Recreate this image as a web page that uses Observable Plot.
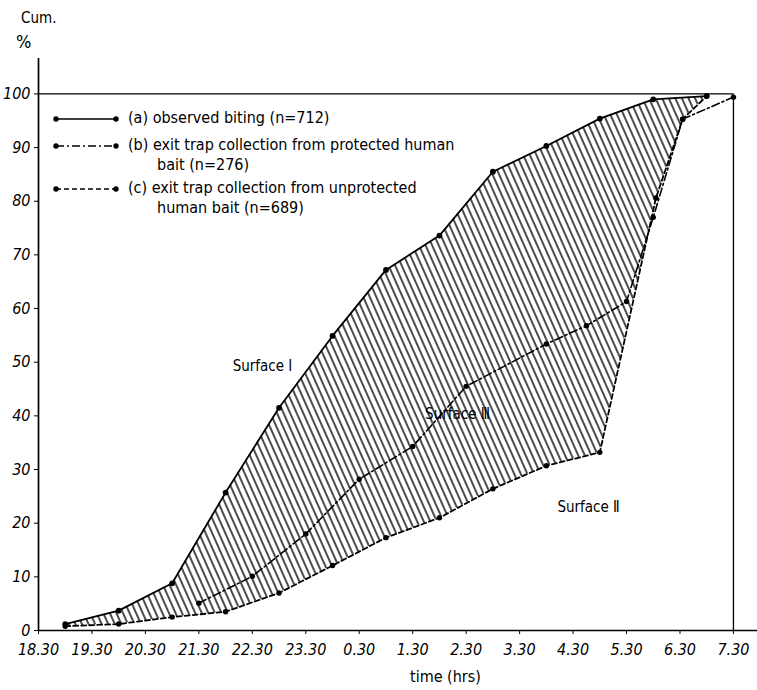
<!DOCTYPE html>
<html>
<head>
<meta charset="utf-8">
<script src="https://cdn.jsdelivr.net/npm/d3@7"></script>
<script src="https://cdn.jsdelivr.net/npm/@observablehq/plot@0.6"></script>
<style>
  html, body { margin: 0; padding: 0; background: #fff; }
  #wrap { position: relative; width: 757px; height: 690px; font-family: "DejaVu Sans Condensed", "DejaVu Sans", sans-serif; color: #000; }
  #wrap svg.plot { position: absolute; left: 0; top: 0; }
  [aria-label="x-axis tick label"] text, [aria-label="y-axis tick label"] text { font-style: italic; font-size: 16px; }
  .ov { position: absolute; white-space: nowrap; font-size: 15px; line-height: 20px; }
  .leg { position: absolute; white-space: nowrap; font-size: 16px; line-height: 20px; }
  .leg svg { vertical-align: middle; margin-right: 8px; }
</style>
</head>
<body>
<div id="wrap"></div>
<script>
// hours after 18.30
const tickHours = [0,1,2,3,4,5,6,7,8,9,10,11,12,13];
const tickLabels = ["18.30","19.30","20.30","21.30","22.30","23.30","0.30","1.30","2.30","3.30","4.30","5.30","6.30","7.30"];
const yTicks = [0,10,20,30,40,50,60,70,80,90,100];

// (a) observed biting
const aTime = [0.5,1.5,2.5,3.5,4.5,5.5,6.5,7.5,8.5,9.5,10.5,11.5,12.5];
const aPct  = [1.2,3.7,8.8,25.7,41.5,54.9,67.2,73.6,85.5,90.3,95.4,99.0,99.6];
// (b) exit trap, protected bait
const bTime = [3.0,4.0,5.0,6.0,7.0,8.0,9.5,10.25,11.0,11.5,12.05,13.0];
const bPct  = [5.1,10.1,18.0,28.2,34.3,45.5,53.4,56.8,61.3,77.0,95.3,99.4];
// (c) exit trap, unprotected bait
const cTime = [0.5,1.5,2.5,3.5,4.5,5.5,6.5,7.5,8.5,9.5,10.5,11.55,12.05,12.5];
const cPct  = [0.8,1.2,2.5,3.5,7.0,12.1,17.3,21.0,26.4,30.7,33.2,80.6,95.3,99.6];

const annotations = [
  {label: "Surface \u2160", t: 4.19, v: 49.2},
  {label: "Surface \u2162", t: 7.84, v: 40.4},
  {label: "Surface \u2161", t: 10.29, v: 22.9}
];

const A = aTime.map((t, i) => ({t, v: aPct[i]}));
const B = bTime.map((t, i) => ({t, v: bPct[i]}));
const C = cTime.map((t, i) => ({t, v: cPct[i]}));

// polygon between (a) and (c): pair rows index-wise (a padded with its last point)
const n = Math.max(A.length, C.length);
const band = d3.range(n).map(i => {
  const a = A[Math.min(i, A.length - 1)], c = C[Math.min(i, C.length - 1)];
  return {x1: a.t, y1: a.v, x2: c.t, y2: c.v};
});

const t0 = d3.min(tickHours), t1 = d3.max(tickHours);

const svg = Plot.plot({
  width: 757,
  height: 690,
  marginLeft: 38,
  marginRight: 0,
  marginTop: 58,
  marginBottom: 60,
  style: {fontFamily: '"DejaVu Sans Condensed", "DejaVu Sans", sans-serif', fontSize: "15px", background: "#fff", color: "#000"},
  x: {domain: [0, 13.45], ticks: tickHours, tickFormat: i => tickLabels[i], tickSize: 4, tickPadding: 9, label: null},
  y: {domain: [0, 106.6], ticks: yTicks, tickSize: 4, tickPadding: 4, label: null},
  marks: [
    Plot.area(band, {x1: "x1", y1: "y1", x2: "x2", y2: "y2", fill: "url(#hatch)", stroke: "none"}),
    Plot.ruleY([0], {stroke: "#000", strokeWidth: 1.7}),
    Plot.ruleX([0], {stroke: "#000", strokeWidth: 1.7}),
    Plot.ruleY([100], {x1: t0, x2: t1, stroke: "#000", strokeWidth: 1.3}),
    Plot.ruleX([t1], {y1: 0, y2: 100, stroke: "#000", strokeWidth: 1.3}),
    Plot.line(A, {x: "t", y: "v", stroke: "#000", strokeWidth: 1.8}),
    Plot.line(B, {x: "t", y: "v", stroke: "#000", strokeWidth: 1.6, strokeDasharray: "8,3,2,3"}),
    Plot.line(C, {x: "t", y: "v", stroke: "#000", strokeWidth: 1.8, strokeDasharray: "5,3"}),
    Plot.dot(A, {x: "t", y: "v", r: 2.9, fill: "#000", stroke: "none"}),
    Plot.dot(B, {x: "t", y: "v", r: 2.7, fill: "#000", stroke: "none"}),
    Plot.dot(C, {x: "t", y: "v", r: 2.7, fill: "#000", stroke: "none"}),
    Plot.text(annotations, {x: "t", y: "v", text: "label", fontSize: 15, fill: "#000"})
  ]
});
svg.classList.add("plot");

const defs = d3.select(svg).insert("defs", ":first-child");
const pat = defs.append("pattern")
  .attr("id", "hatch")
  .attr("patternUnits", "userSpaceOnUse")
  .attr("width", 6)
  .attr("height", 6)
  .attr("patternTransform", "rotate(-24)");
pat.append("line").attr("x1", 1).attr("y1", -1).attr("x2", 1).attr("y2", 7)
  .attr("stroke", "#000").attr("stroke-width", 1.4);

const wrap = document.getElementById("wrap");
wrap.appendChild(svg);

function addText(txt, left, top, size) {
  const d = document.createElement("div");
  d.className = "ov";
  d.style.left = left + "px";
  d.style.top = top + "px";
  if (size) d.style.fontSize = size + "px";
  d.textContent = txt;
  wrap.appendChild(d);
}
addText("Cum.", 21, 8, 15);
addText("%", 16, 32, 18);
addText("time (hrs)", 410, 667, 16);

// legend
const legend = [
  {dash: null, lines: ["(a) observed biting (n=712)"]},
  {dash: "8,3,2,3", lines: ["(b) exit trap collection from protected human", "bait (n=276)"]},
  {dash: "5,3", lines: ["(c) exit trap collection from unprotected", "human bait (n=689)"]}
];
const legTops = [108, 135, 178];
legend.forEach((item, k) => {
  const row = document.createElement("div");
  row.className = "leg";
  row.style.left = "52px";
  row.style.top = legTops[k] + "px";
  const s = d3.create("svg").attr("width", 68).attr("height", 10);
  s.append("line").attr("x1", 4).attr("x2", 64).attr("y1", 5).attr("y2", 5)
    .attr("stroke", "#000").attr("stroke-width", 1.6)
    .attr("stroke-dasharray", item.dash);
  s.append("circle").attr("cx", 4).attr("cy", 5).attr("r", 2.7);
  s.append("circle").attr("cx", 64).attr("cy", 5).attr("r", 2.7);
  row.appendChild(s.node());
  row.appendChild(document.createTextNode(item.lines[0]));
  wrap.appendChild(row);
  if (item.lines[1]) {
    const r2 = document.createElement("div");
    r2.className = "leg";
    r2.style.left = "157px";
    r2.style.top = (legTops[k] + 20) + "px";
    r2.textContent = item.lines[1];
    wrap.appendChild(r2);
  }
});
</script>
</body>
</html>
